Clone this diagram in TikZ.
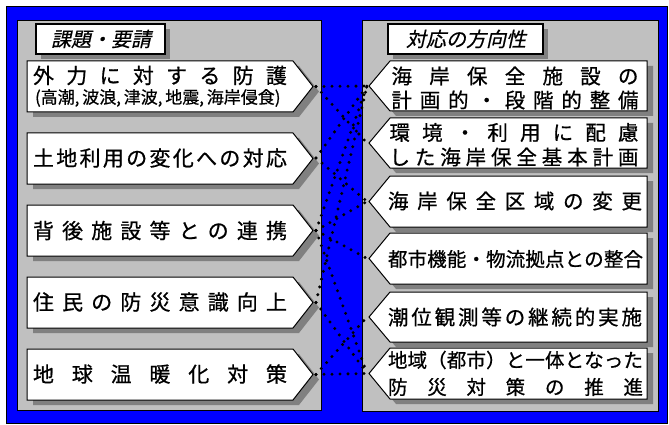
\documentclass[tikz,border=0pt]{standalone}
\usepackage{fontspec}
\setmainfont{Noto Sans CJK JP}[FakeBold=0.7]
\newfontfamily\cjkit[FakeSlant=0.22,FakeBold=0.5]{Noto Sans CJK JP}
\definecolor{bgblue}{RGB}{0,0,255}
\definecolor{panelgray}{RGB}{192,192,192}
\definecolor{shadegray}{RGB}{128,128,128}
\makeatletter
\newcommand\spread[2]{\makebox[#1]{\spr@first#2\relax}}
\def\spr@first#1{\ifx#1\relax\else#1\expandafter\spr@next\fi}
\def\spr@next#1{\ifx#1\relax\else\hfill#1\expandafter\spr@next\fi}
\makeatother
\newcommand\leftbox[1]{%
  \fill[shadegray] (33,#1+5) -- (299,#1+5) -- (319,#1+30.5) -- (299,#1+56) -- (33,#1+56) -- cycle;
  \filldraw[boxstyle] (27,#1) -- (293,#1) -- (313,#1+25.5) -- (293,#1+51) -- (27,#1+51) -- cycle;}
\newcommand\rightbox[2]{%
  \fill[shadegray] (653,#1+5) -- (396,#1+5) -- (375,#1+5+#2/2) -- (396,#1+5+#2) -- (653,#1+5+#2) -- cycle;
  \filldraw[boxstyle] (647,#1) -- (390,#1) -- (369,#1+#2/2) -- (390,#1+#2) -- (647,#1+#2) -- cycle;}
\begin{document}
\begin{tikzpicture}[x=1pt,y=-1pt,
  boxstyle/.style={fill=white,draw=black,line width=1pt},
  titlebox/.style={fill=white,draw=black,line width=1.3pt},
  lt/.style={inner sep=0pt,font=\fontsize{21}{21}\selectfont},
  rt/.style={inner sep=0pt,font=\fontsize{20.5}{21}\selectfont},
  rs/.style={inner sep=0pt,font=\fontsize{19.5}{20}\selectfont},
  tt/.style={inner sep=0pt,font=\cjkit\fontsize{20}{20}\selectfont},
  link/.style={line width=3.3pt,line cap=round,dash pattern=on 0pt off 8pt}]
\useasboundingbox (0,0) rectangle (669,425);
\fill[white] (0,0) rectangle (669,425);
\filldraw[fill=bgblue,draw=black,line width=0.8pt] (6,6) rectangle (667,423);
\filldraw[fill=panelgray,draw=black,line width=0.7pt] (17,20) rectangle (321,410);
\filldraw[fill=panelgray,draw=black,line width=0.7pt] (362,20) rectangle (658,411);
% titles
\fill[shadegray] (41,29) rectangle (170,59);
\filldraw[titlebox] (36,24) rectangle (165,54);
\node[tt] (ttl) at (101,39) {課題・要請};
\fill[shadegray] (393,29) rectangle (548,59);
\filldraw[titlebox] (388,24) rectangle (543,54);
\node[tt] (ttr) at (466,39) {対応の方向性};
% left boxes
\leftbox{61}\leftbox{133}\leftbox{205}\leftbox{277}\leftbox{349}
\node[lt] (l1a) at (160,75.5) {\spread{254pt}{外力に対する防護}};
\node[inner sep=0pt,font=\fontsize{17}{17}\selectfont] (l1b) at (156,98) {\makebox[242pt][s]{(高潮, 波浪, 津波, 地震, 海岸侵食)}};
\node[lt] (l2) at (160,158) {\spread{254pt}{土地利用の変化への対応}};
\node[lt] (l3) at (160,230.5) {\spread{254pt}{背後施設等との連携}};
\node[lt] (l4) at (160,302) {\spread{254pt}{住民の防災意識向上}};
\node[lt] (l5) at (160,374) {\spread{254pt}{地球温暖化対策}};
% right boxes
\rightbox{61}{50}\rightbox{118}{50}\rightbox{176}{51}\rightbox{233}{51}\rightbox{292}{50}\rightbox{348}{51}
\node[rt] (r1a) at (515,76) {\spread{247pt}{海岸保全施設の}};
\node[rt] (r1b) at (515,100) {\spread{247pt}{計画的・段階的整備}};
\node[rt] (r2a) at (514,132.5) {\spread{249pt}{環境・利用に配慮}};
\node[rt] (r2b) at (514,157) {\spread{249pt}{した海岸保全基本計画}};
\node[rt] (r3) at (515,201) {\spread{254pt}{海岸保全区域の変更}};
\node[rs] (r4) at (515.5,259) {\spread{255pt}{都市機能・物流拠点との整合}};
\node[rt] (r5) at (515,317) {\spread{254pt}{潮位観測等の継続的実施}};
\node[rs] (r6a) at (515.5,360) {\spread{255pt}{地域（都市）と一体となった}};
\node[rs] (r6b) at (515.5,387) {\spread{255pt}{防災対策の推進}};
% tips
\coordinate (L1) at (316,86.5);
\coordinate (L2) at (316,158);
\coordinate (L3) at (316,230.5);
\coordinate (L4) at (316,302.5);
\coordinate (L5) at (316,374.5);
\coordinate (R1) at (367,86);
\coordinate (R2) at (367,143);
\coordinate (R3) at (367,201.5);
\coordinate (R4) at (367,258.5);
\coordinate (R5) at (367,317);
\coordinate (R6) at (367,373.5);
% connectors
\draw[link] (L1) -- (R1);
\draw[link] (L1) -- (R2);
\draw[link] (L2) -- (R1);
\draw[link] (L2) -- (R3);
\draw[link] (L3) -- (R1);
\draw[link] (L3) -- (R3);
\draw[link] (L3) -- (R4);
\draw[link] (L3) -- (R6);
\draw[link] (L4) -- (R1);
\draw[link] (L4) -- (R6);
\draw[link] (L5) -- (R5);
\draw[link] (L5) -- (R6);
\end{tikzpicture}
\end{document}
